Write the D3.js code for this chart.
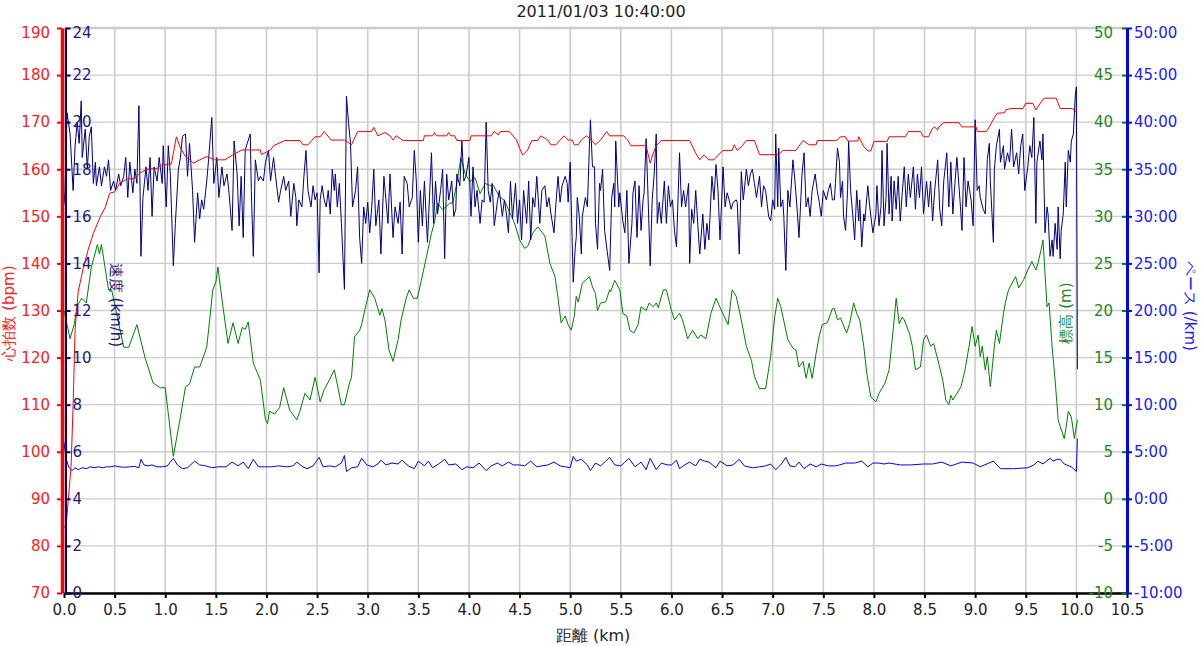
<!DOCTYPE html>
<html><head><meta charset="utf-8">
<script src="https://cdn.jsdelivr.net/npm/d3@7"></script>
<style>
body{margin:0;background:#fff}
text{font-family:"DejaVu Sans",sans-serif}
</style>
</head><body>
<svg width="1201" height="646"></svg>
<script>
const title="2011/01/03 10:40:00"
const distTicks=[0,0.5,1,1.5,2,2.5,3,3.5,4,4.5,5,5.5,6,6.5,7,7.5,8,8.5,9,9.5,10,10.5]
const hrTicks=[70,80,90,100,110,120,130,140,150,160,170,180,190]
const speedTicks=[0,2,4,6,8,10,12,14,16,18,20,22,24]
const eleTicks=[-10,-5,0,5,10,15,20,25,30,35,40,45,50]
const eleLabels=["-10","-5","0","5","10","15","20","25","30","35","40","45","50"]
const paceTicks=[-10,-5,0,5,10,15,20,25,30,35,40,45,50]
const paceLabels=["-10:00","-5:00","0:00","5:00","10:00","15:00","20:00","25:00","30:00","35:00","40:00","45:00","50:00"]

// [km, bpm]
const hrData=[[0.00,84],[0.02,84],[0.07,97],[0.09,110],[0.11,126],[0.14,134],[0.19,139],[0.24,143],[0.29,146.4],[0.36,150],[0.41,152],[0.45,154.9],[0.50,155.2],[0.55,157],[0.62,157.9],[0.70,158.1],[0.75,159.2],[0.82,160],[0.92,160.2],[0.97,161],[1.06,161.1],[1.11,166.9],[1.15,164.5],[1.20,162.7],[1.28,161.3],[1.34,162],[1.41,162.7],[1.49,162],[1.59,162],[1.67,163.1],[1.76,164.1],[1.94,164.1],[1.95,163.1],[2.04,164.1],[2.07,165],[2.18,166.1],[2.33,166.1],[2.36,165.2],[2.41,165.2],[2.48,166.9],[2.53,166.9],[2.57,168],[2.64,166.2],[2.77,166.2],[2.84,165.2],[2.90,168],[3.04,168],[3.06,168.9],[3.10,167.1],[3.17,167.8],[3.22,167.1],[3.25,166.2],[3.28,167.1],[3.35,166.1],[3.55,166.1],[3.56,167.1],[3.64,167.1],[3.66,167.8],[3.68,167.1],[3.78,167.1],[3.80,167.8],[3.82,167.1],[3.86,167.1],[3.88,166.1],[4.01,166.1],[4.02,167.1],[4.22,167.1],[4.25,168],[4.29,167.3],[4.31,168],[4.40,168],[4.47,166.2],[4.50,164.5],[4.53,163.0],[4.58,164.1],[4.62,166.1],[4.68,166.1],[4.71,167.1],[4.78,166.2],[4.81,165.2],[4.86,165.2],[4.90,166.2],[4.94,167.1],[4.98,166.2],[5.02,166.2],[5.04,165.2],[5.08,165.2],[5.11,166.2],[5.16,167.1],[5.21,166.2],[5.25,165.2],[5.30,166.2],[5.36,168],[5.39,167.1],[5.53,167.1],[5.57,166.1],[5.60,165],[5.75,165],[5.79,161.3],[5.82,163.4],[5.85,165],[5.90,166.1],[6.18,166.1],[6.24,163.4],[6.28,162],[6.32,163],[6.37,162],[6.42,162],[6.46,163],[6.51,164],[6.60,164],[6.62,165.2],[6.65,164],[6.70,165],[6.74,166.1],[6.82,166.1],[6.87,163.1],[7.06,163.1],[7.10,164],[7.23,164],[7.30,166.1],[7.36,165.2],[7.43,165.2],[7.44,166.1],[7.61,166.1],[7.64,166.2],[7.67,166.9],[7.72,166.9],[7.74,166.0],[7.84,166.0],[7.85,166.9],[7.90,164.8],[7.94,163.9],[7.97,163.9],[8.00,165.9],[8.13,165.9],[8.15,166.9],[8.31,166.9],[8.34,168],[8.46,168],[8.49,166.9],[8.54,166.9],[8.58,168.7],[8.60,169],[8.63,168.3],[8.64,169],[8.69,169.9],[8.84,169.9],[8.87,169],[9.01,169],[9.02,168],[9.11,168],[9.14,169],[9.19,171],[9.22,171.9],[9.29,172],[9.30,172.6],[9.35,172.9],[9.47,172.9],[9.50,174],[9.57,174],[9.60,172.6],[9.63,173.6],[9.68,175.1],[9.80,175.1],[9.84,172.9],[9.96,172.9],[10.01,172]]

// [km, km/h]
const speedData=[[0.00,16.5],[0.01,17.1],[0.03,20.4],[0.06,19.5],[0.09,17.1],[0.11,19.0],[0.13,20.0],[0.15,19.1],[0.17,20.9],[0.18,18.5],[0.21,19.7],[0.23,18.0],[0.25,19.4],[0.27,19.8],[0.29,17.4],[0.31,18.3],[0.32,17.3],[0.35,18.1],[0.37,17.3],[0.40,18.1],[0.42,17.7],[0.44,18.4],[0.46,17.1],[0.49,17.5],[0.51,17.1],[0.54,17.8],[0.56,17.3],[0.59,17.7],[0.61,18.5],[0.63,16.8],[0.65,18.3],[0.68,17.0],[0.70,18.0],[0.72,17.4],[0.74,20.7],[0.76,14.3],[0.78,16.8],[0.81,18.1],[0.83,17.1],[0.85,18.5],[0.87,16.0],[0.89,18.1],[0.92,17.5],[0.94,18.5],[0.97,17.4],[0.98,19.0],[1.01,16.4],[1.03,19.0],[1.05,17.8],[1.08,13.9],[1.10,15.7],[1.13,18.0],[1.15,18.5],[1.17,19.4],[1.20,19.5],[1.22,17.7],[1.24,19.1],[1.27,17.1],[1.29,14.9],[1.32,17.0],[1.34,15.9],[1.36,16.7],[1.38,16.3],[1.41,17.5],[1.43,18.5],[1.46,20.2],[1.48,17.4],[1.51,18.5],[1.53,16.8],[1.56,18.1],[1.58,17.3],[1.61,17.8],[1.63,17.0],[1.66,15.4],[1.68,19.2],[1.71,17.8],[1.73,15.6],[1.75,17.7],[1.77,15.1],[1.79,18.8],[1.81,19.1],[1.84,19.5],[1.85,17.1],[1.87,14.3],[1.89,18.4],[1.92,17.5],[1.94,17.7],[1.97,17.5],[1.99,18.3],[2.02,18.8],[2.04,17.5],[2.07,18.5],[2.09,17.7],[2.12,16.6],[2.14,17.1],[2.17,17.7],[2.19,17.1],[2.22,17.5],[2.24,16.0],[2.27,17.4],[2.29,16.8],[2.30,15.6],[2.32,16.7],[2.35,16.4],[2.37,17.7],[2.39,18.8],[2.41,17.1],[2.44,16.4],[2.46,17.3],[2.48,16.7],[2.50,17.0],[2.52,13.6],
[2.53,16.7],[2.55,17.3],[2.57,16.7],[2.59,16.4],[2.61,17.1],[2.63,16.1],[2.65,18.0],[2.67,17.1],[2.68,17.8],[2.70,16.4],[2.72,17.4],[2.74,15.7],[2.77,12.9],[2.79,21.1],[2.81,20.0],[2.83,19.1],[2.85,16.4],[2.88,17.1],[2.90,18.1],[2.92,15.1],[2.94,14.0],[2.96,16.4],[2.98,15.7],[3.00,16.6],[3.02,15.3],[3.04,16.4],[3.06,18.0],[3.08,15.6],[3.11,16.7],[3.13,14.4],[3.16,17.7],[3.18,16.7],[3.20,15.7],[3.22,17.8],[3.25,15.1],[3.27,16.4],[3.30,15.7],[3.32,16.6],[3.34,14.4],[3.36,17.7],[3.39,17.4],[3.41,16.4],[3.44,16.8],[3.46,18.8],[3.48,17.5],[3.50,14.9],[3.52,17.1],[3.54,15.6],[3.56,17.5],[3.59,14.9],[3.61,16.8],[3.63,18.7],[3.65,15.7],[3.67,17.5],[3.69,16.1],[3.72,17.1],[3.74,18.0],[3.76,14.2],[3.78,17.8],[3.80,16.7],[3.83,17.5],[3.85,16.0],[3.87,16.3],[3.88,17.8],[3.91,17.3],[3.93,19.2],[3.95,17.5],[3.97,17.7],[4.00,18.5],[4.02,16.0],[4.04,18.1],[4.06,16.4],[4.08,17.1],[4.11,15.7],[4.13,16.7],[4.15,16.6],[4.17,20.0],[4.19,17.1],[4.21,16.6],[4.23,17.4],[4.25,15.6],[4.28,16.6],[4.30,17.1],[4.33,16.0],[4.35,16.7],[4.37,16.1],[4.39,15.3],[4.41,17.5],[4.43,15.9],[4.46,17.4],[4.48,15.7],[4.50,16.7],[4.52,15.0],[4.54,17.1],[4.57,15.7],[4.59,17.5],[4.61,15.0],[4.63,16.8],[4.65,16.4],[4.67,17.7],[4.70,15.7],[4.72,17.1],[4.75,17.3],[4.77,16.4],[4.79,16.8],[4.81,16.1],[4.84,15.3],[4.86,16.6],[4.88,17.7],[4.90,16.6],[4.92,17.3],[4.95,17.7],[4.97,17.4],[4.98,16.6],[5.00,18.3],[5.03,13.2],[5.05,14.7],
[5.06,15.1],[5.07,16.8],[5.09,16.0],[5.11,14.4],[5.12,16.0],[5.15,16.8],[5.17,16.4],[5.19,19.0],[5.20,20.1],[5.22,18.1],[5.24,18.1],[5.25,15.7],[5.27,14.6],[5.29,17.4],[5.30,17.1],[5.32,18.0],[5.34,15.4],[5.36,14.7],[5.39,13.7],[5.41,16.8],[5.43,17.4],[5.44,16.4],[5.45,19.2],[5.48,16.4],[5.49,17.0],[5.52,15.8],[5.54,15.3],[5.56,17.1],[5.58,14.0],[5.61,15.7],[5.62,17.0],[5.64,17.5],[5.66,15.1],[5.68,17.3],[5.70,15.4],[5.72,16.7],[5.73,17.0],[5.75,19.3],[5.77,16.7],[5.79,13.9],[5.81,16.7],[5.83,17.8],[5.85,19.5],[5.86,15.7],[5.88,16.6],[5.90,15.7],[5.93,17.5],[5.95,15.7],[5.97,17.3],[5.99,16.4],[6.01,16.7],[6.03,15.4],[6.05,14.7],[6.08,18.7],[6.10,16.4],[6.12,17.1],[6.14,16.4],[6.17,17.4],[6.18,14.0],[6.20,16.3],[6.22,15.7],[6.24,17.1],[6.27,15.0],[6.28,14.4],[6.31,16.1],[6.33,14.6],[6.35,15.7],[6.37,15.0],[6.40,17.7],[6.42,16.7],[6.44,18.2],[6.46,17.1],[6.48,15.0],[6.51,18.1],[6.53,16.4],[6.55,17.0],[6.57,16.7],[6.59,16.3],[6.61,16.6],[6.64,16.7],[6.65,16.6],[6.67,14.4],[6.69,17.9],[6.71,16.7],[6.74,18.0],[6.76,17.3],[6.78,17.8],[6.80,18.0],[6.82,17.4],[6.84,16.8],[6.87,17.7],[6.89,16.4],[6.91,17.3],[6.93,17.1],[6.96,16.0],[6.98,15.8],[7.00,16.7],[7.02,16.3],[7.03,19.5],[7.05,16.4],[7.06,18.9],[7.08,16.4],[7.10,16.7],[7.11,16.0],[7.13,13.7],[7.15,17.1],[7.17,16.4],[7.20,18.4],[7.22,17.5],[7.24,16.4],[7.26,15.1],[7.29,17.8],[7.31,18.7],[7.33,16.4],[7.35,16.8],[7.37,16.0],[7.39,17.1],[7.42,17.8],[7.44,17.1],[7.46,16.6],[7.48,16.0],[7.50,17.1],[7.53,16.7],[7.55,17.1],[7.57,17.4],[7.59,16.7],
[7.61,16.7],[7.62,17.4],[7.64,18.9],[7.66,18.3],[7.67,16.8],[7.69,17.5],[7.70,16.0],[7.72,15.4],[7.74,17.1],[7.75,19.2],[7.77,17.1],[7.79,16.1],[7.81,15.0],[7.83,17.1],[7.85,15.8],[7.86,16.7],[7.88,14.7],[7.90,16.1],[7.91,15.8],[7.94,17.3],[7.95,16.8],[7.97,16.0],[7.99,15.3],[8.02,16.1],[8.03,17.3],[8.05,15.6],[8.07,16.4],[8.08,18.8],[8.10,15.6],[8.12,16.8],[8.13,19.1],[8.15,16.1],[8.17,17.7],[8.18,15.8],[8.20,17.5],[8.22,16.3],[8.24,17.7],[8.26,15.8],[8.28,17.0],[8.30,18.1],[8.32,16.4],[8.34,17.8],[8.36,16.8],[8.39,18.1],[8.41,16.3],[8.43,17.8],[8.45,16.8],[8.47,18.1],[8.49,16.1],[8.52,17.5],[8.54,16.4],[8.56,17.5],[8.58,15.8],[8.60,17.1],[8.63,18.4],[8.65,16.3],[8.67,15.6],[8.69,17.5],[8.72,18.7],[8.74,16.4],[8.76,18.3],[8.78,16.1],[8.80,17.4],[8.82,18.5],[8.85,16.7],[8.87,15.4],[8.89,18.5],[8.91,16.4],[8.93,17.5],[8.96,16.7],[8.98,15.6],[9.00,20.1],[9.02,17.1],[9.04,17.3],[9.05,16.8],[9.08,16.3],[9.10,16.1],[9.12,18.4],[9.14,19.1],[9.15,17.5],[9.18,14.9],[9.19,18.0],[9.21,19.0],[9.24,19.7],[9.25,18.3],[9.28,19.0],[9.29,18.0],[9.32,18.7],[9.34,18.3],[9.36,19.7],[9.38,18.1],[9.41,18.7],[9.43,17.8],[9.45,19.0],[9.47,19.5],[9.49,17.1],[9.52,18.1],[9.54,19.0],[9.56,18.5],[9.58,20.2],[9.60,15.7],[9.61,18.3],[9.64,19.2],[9.66,18.4],[9.67,19.5],[9.69,15.3],[9.71,16.4],[9.72,16.1],[9.74,14.3],[9.76,15.0],[9.77,14.3],[9.79,15.7],[9.81,14.6],[9.82,16.4],[9.84,14.2],[9.85,15.4],[9.87,16.1],[9.89,18.3],[9.90,16.4],[9.92,18.8],[9.94,18.3],[9.95,19.2],[9.97,19.5],[9.99,21.2],[10.00,21.5],[10.01,9.5]]

// [km, m]
const eleData=[[0.00,20.0],[0.02,19.0],[0.06,17.0],[0.10,18.5],[0.13,20.5],[0.175,21.3],[0.22,20.8],[0.27,24.6],[0.33,27.0],[0.35,26.0],[0.37,27.0],[0.44,22.2],[0.47,22.2],[0.59,16.1],[0.64,16.1],[0.72,18.5],[0.80,15.0],[0.88,12.3],[0.95,11.8],[1.00,11.8],[1.08,4.5],[1.15,8.7],[1.20,11.9],[1.24,12.2],[1.29,14.0],[1.34,14.0],[1.41,16.1],[1.47,22.2],[1.50,23.0],[1.52,24.6],[1.57,20.4],[1.62,16.5],[1.67,18.7],[1.72,16.5],[1.76,18.2],[1.79,18.0],[1.82,18.8],[1.87,14.4],[1.94,12.6],[1.99,8.4],[2.01,8.0],[2.03,9.3],[2.08,9.0],[2.13,9.7],[2.17,11.8],[2.23,9.4],[2.30,8.4],[2.33,9.3],[2.38,11.2],[2.43,10.5],[2.48,12.9],[2.51,11.4],[2.53,10.3],[2.57,11.6],[2.62,12.6],[2.67,13.7],[2.71,11.6],[2.74,10.0],[2.77,10.0],[2.82,12.3],[2.84,12.9],[2.87,17.2],[2.92,17.9],[2.94,18.5],[2.97,20.0],[3.02,22.2],[3.07,21.3],[3.12,19.5],[3.14,20.2],[3.17,19.0],[3.21,15.8],[3.25,14.6],[3.30,16.9],[3.33,19.0],[3.38,21.3],[3.41,22.2],[3.45,21.3],[3.49,21.3],[3.53,23.2],[3.58,25.7],[3.63,28.2],[3.66,29.4],[3.69,31.4],[3.74,30.7],[3.81,31.4],[3.84,31.4],[3.88,33.5],[3.92,36.2],[3.96,34.6],[4.01,33.7],[4.06,34.1],[4.11,32.4],[4.16,33.5],[4.20,33.3],[4.24,33.3],[4.30,32.1],[4.35,31.7],[4.42,30.0],[4.45,29.3],[4.50,27.5],[4.55,26.6],[4.58,26.8],[4.63,28.2],[4.68,28.9],[4.75,27.9],[4.80,25.0],[4.85,23.6],[4.88,21.3],[4.91,18.7],[4.95,19.4],[4.98,18.5],[5.01,17.9],[5.04,19.4],[5.06,21.5],[5.08,20.9],[5.12,22.9],[5.19,23.6],[5.22,22.5],[5.25,21.8],[5.27,20.0],[5.30,20.8],[5.35,20.9],[5.39,22.2],[5.40,22.0],[5.44,23.2],[5.49,22.2],[5.52,19.7],[5.56,19.4],[5.59,17.9],[5.63,17.6],[5.67,18.5],[5.70,20.4],[5.75,20.0],[5.78,20.8],[5.82,20.4],[5.85,20.8],[5.87,20.3],[5.92,22.2],[5.95,22.2],[6.00,20.0],[6.03,19.0],[6.08,19.7],[6.11,19.0],[6.16,17.0],[6.21,17.9],[6.26,17.0],[6.29,17.4],[6.34,17.0],[6.39,19.7],[6.44,21.3],[6.49,20.1],[6.52,19.4],[6.56,18.5],[6.58,20.4],[6.60,22.2],[6.64,21.5],[6.69,19.0],[6.74,16.2],[6.79,14.7],[6.82,13.0],[6.87,11.7],[6.93,11.7],[6.98,15.1],[7.02,19.3],[7.05,21.3],[7.08,20.4],[7.15,16.9],[7.20,16.0],[7.23,15.8],[7.26,14.0],[7.30,14.6],[7.33,12.8],[7.36,14.4],[7.39,12.8],[7.43,15.5],[7.46,17.3],[7.49,18.5],[7.54,18.7],[7.59,20.2],[7.61,20.2],[7.64,19.0],[7.67,19.2],[7.73,17.6],[7.76,18.6],[7.80,20.8],[7.83,19.7],[7.86,19.0],[7.90,16.2],[7.93,13.3],[7.97,10.8],[8.02,10.3],[8.05,11.2],[8.11,12.3],[8.15,13.7],[8.19,17.9],[8.22,21.3],[8.25,18.6],[8.28,19.3],[8.30,19.0],[8.35,17.6],[8.38,16.2],[8.41,13.7],[8.46,14.0],[8.49,16.9],[8.52,17.4],[8.56,16.2],[8.59,16.5],[8.64,14.4],[8.68,12.6],[8.71,10.5],[8.74,10.0],[8.76,11.0],[8.78,10.5],[8.82,11.2],[8.86,11.9],[8.90,13.7],[8.94,16.2],[8.97,18.3],[9.00,16.2],[9.03,17.4],[9.05,15.1],[9.07,16.2],[9.10,13.7],[9.12,15.1],[9.15,11.9],[9.19,16.2],[9.21,17.9],[9.24,16.5],[9.28,19.7],[9.30,20.9],[9.33,22.2],[9.40,23.6],[9.43,22.4],[9.47,23.1],[9.48,23.3],[9.52,24.3],[9.56,25.2],[9.60,24.3],[9.62,25.0],[9.65,26.4],[9.67,27.5],[9.71,20.4],[9.73,20.8],[9.76,16.2],[9.79,12.6],[9.82,8.4],[9.84,7.7],[9.88,6.4],[9.90,7.7],[9.92,9.3],[9.95,8.7],[9.98,6.4],[10.01,8.4]]

// [km, min/km]
const paceData=[[0.00,6.0],[0.02,4.3],[0.05,3.3],[0.08,3.0],[0.11,3.3],[0.14,3.1],[0.18,3.3],[0.22,3.2],[0.26,3.4],[0.30,3.3],[0.34,3.4],[0.38,3.3],[0.42,3.4],[0.46,3.4],[0.50,3.5],[0.55,3.4],[0.60,3.35],[0.65,3.4],[0.70,3.45],[0.74,3.3],[0.76,4.2],[0.79,3.6],[0.83,3.5],[0.87,3.6],[0.92,3.4],[0.97,3.4],[1.02,3.5],[1.08,4.3],[1.12,3.6],[1.17,3.2],[1.22,3.3],[1.29,4.0],[1.34,3.6],[1.40,3.5],[1.46,3.3],[1.52,3.4],[1.60,3.4],[1.66,3.9],[1.72,3.5],[1.77,3.9],[1.82,3.2],[1.87,4.2],[1.92,3.4],[1.98,3.4],[2.05,3.4],[2.12,3.5],[2.20,3.4],[2.26,3.5],[2.30,3.9],[2.36,3.4],[2.40,3.2],[2.46,3.5],[2.52,4.4],[2.56,3.4],[2.62,3.5],[2.68,3.4],[2.74,3.8],[2.77,4.6],[2.79,2.9],[2.84,3.3],[2.90,3.4],[2.94,4.3],[2.99,3.6],[3.05,3.4],[3.10,3.7],[3.13,4.1],[3.18,3.6],[3.24,3.8],[3.30,3.7],[3.34,4.1],[3.40,3.5],[3.46,3.2],[3.50,4.0],[3.56,3.5],[3.60,4.0],[3.64,3.3],[3.70,3.7],[3.76,4.2],[3.80,3.6],[3.87,3.7],[3.93,3.1],[3.98,3.4],[4.04,3.3],[4.10,3.8],[4.17,3.0],[4.22,3.5],[4.28,3.8],[4.33,3.5],[4.39,3.9],[4.44,3.6],[4.50,3.6],[4.55,3.5],[4.61,4.0],[4.67,3.4],[4.72,3.5],[4.78,3.6],[4.84,3.9],[4.90,3.5],[4.95,3.4],[5.00,3.3],[5.03,4.5],[5.06,4.0],[5.11,4.2],[5.17,3.6],[5.20,3.0],[5.25,3.8],[5.30,3.5],[5.35,4.0],[5.39,4.4],[5.44,3.6],[5.50,3.5],[5.54,3.9],[5.58,4.3],[5.64,3.4],[5.70,3.9],[5.75,3.1],[5.79,4.3],[5.85,3.1],[5.90,3.8],[5.96,3.6],[6.00,3.6],[6.05,4.1],[6.08,3.2],[6.13,3.6],[6.18,3.9],[6.24,3.5],[6.28,4.2],[6.33,4.0],[6.37,3.9],[6.44,3.3],[6.48,4.0],[6.55,3.5],[6.61,3.6],[6.67,4.2],[6.72,3.5],[6.80,3.3],[6.87,3.4],[6.93,3.5],[6.98,3.7],[7.03,3.1],[7.08,3.6],[7.13,4.4],[7.17,3.5],[7.22,3.4],[7.26,3.9],[7.31,3.2],[7.37,3.7],[7.43,3.4],[7.48,3.7],[7.55,3.5],[7.62,3.5],[7.66,3.6],[7.72,3.8],[7.81,3.8],[7.88,4.0],[7.94,3.4],[7.99,3.8],[8.05,3.8],[8.10,3.7],[8.15,3.8],[8.26,3.6],[8.36,3.6],[8.49,3.7],[8.58,3.7],[8.67,3.9],[8.76,3.5],[8.87,3.9],[8.98,3.8],[9.05,3.4],[9.18,4.0],[9.25,3.2],[9.38,3.2],[9.52,3.3],[9.58,3.6],[9.62,4.0],[9.67,3.7],[9.74,4.3],[9.77,4.0],[9.81,4.2],[9.84,4.2],[9.88,3.7],[9.95,3.4],[10.00,2.9],[10.01,6.4]]

const svg=d3.select("svg")
const L=64,R=1127,T=28,B=593
const x=d3.scaleLinear().domain([0,10.5]).range([L,R])
const yHr=d3.scaleLinear().domain([70,190]).range([B,T])
const ySpd=d3.scaleLinear().domain([0,24]).range([B,T])
const yEle=d3.scaleLinear().domain([-10,50]).range([B,T])
const yPace=d3.scaleLinear().domain([-10,50]).range([B,T])

// grid
const grid=svg.append("g").attr("stroke","#cccccc")
grid.selectAll(".h").data(hrTicks).join("line")
.attr("x1",L).attr("x2",R).attr("y1",d=>yHr(d)).attr("y2",d=>yHr(d))
.attr("stroke-width",d=>d==190?2.5:1.3)
grid.selectAll(".v").data(distTicks).join("line")
.attr("x1",d=>x(d)).attr("x2",d=>x(d)).attr("y1",T).attr("y2",B)
.attr("stroke-width",1.6)

const lineOf=(ys)=>d3.line().x(d=>x(d[0])).y(d=>ys(d[1]))
const draw=(data,ys,col)=>svg.append("path").datum(data).attr("d",lineOf(ys))
.attr("fill","none").attr("stroke",col).attr("stroke-width",1).attr("stroke-linejoin","round")

draw(eleData,yEle,"#008000")
draw(paceData,yPace,"#0000ff")
draw(speedData,ySpd,"#000080")
draw(hrData,yHr,"#ff0000")

const fontSz="15px"
styleAxis=(g,col,w,showDomain)=>{
g.attr("font-family",null).attr("font-size",null)
g.selectAll("text").attr("fill",col).style("font-size",fontSz).style("font-family","DejaVu Sans")
g.selectAll(".tick line").attr("stroke",col).attr("stroke-width",2)
if(showDomain){g.select(".domain").attr("stroke",col).attr("stroke-width",w)}
else{g.select(".domain").remove()}
}
// top label sits inside the frame, like the original
const nudgeTop=(g,top)=>{g.selectAll(".tick").filter(d=>d==top).select("text").attr("y",5)}

// bottom axis
let gx=svg.append("g").attr("transform",`translate(0,${B})`)
.call(d3.axisBottom(x).tickValues(distTicks).tickFormat(d3.format(".1f")).tickSize(5).tickSizeOuter(0).tickPadding(6))
styleAxis(gx,"#000",2.5,true)
gx.selectAll("text").attr("fill","#222")

// heart rate axis
let gh=svg.append("g").attr("transform",`translate(${L-2},0)`)
.call(d3.axisLeft(yHr).tickValues(hrTicks).tickSize(5).tickSizeOuter(0).tickPadding(7))
styleAxis(gh,"#ff0000",3.5,true)
gh.selectAll("text").attr("fill","#ff2020")
nudgeTop(gh,190)

// speed axis
let gs=svg.append("g").attr("transform",`translate(${L+1.5},0)`)
.call(d3.axisRight(ySpd).tickValues(speedTicks).tickSize(5).tickSizeOuter(0).tickPadding(2))
styleAxis(gs,"#000080",2,true)
gs.selectAll("text").attr("fill","#1a1a80")
nudgeTop(gs,24)

// elevation axis
let ge=svg.append("g").attr("transform",`translate(${R},0)`)
.call(d3.axisLeft(yEle).tickValues(eleTicks).tickFormat((d,i)=>eleLabels[i]).tickSize(5).tickSizeOuter(0).tickPadding(9))
styleAxis(ge,"#008000",1,false)
ge.selectAll("text").attr("fill","#1a8a1a")
nudgeTop(ge,50)

// pace axis
let gp=svg.append("g").attr("transform",`translate(${R},0)`)
.call(d3.axisRight(yPace).tickValues(paceTicks).tickFormat((d,i)=>paceLabels[i]).tickSize(5).tickSizeOuter(0).tickPadding(2))
styleAxis(gp,"#0000ff",3,true)
gp.selectAll("text").attr("fill","#2020ff")
nudgeTop(gp,50)

// titles
const label=(tx,ty,rot,txt,col,sz)=>svg.append("text")
.attr("transform",`translate(${tx},${ty}) rotate(${rot})`)
.attr("text-anchor","middle").attr("dominant-baseline","central")
.attr("fill",col).style("font-size",sz||"15px").text(txt)

label(601,11,0,title,"#222","16px")
label(593,635,0,"距離 (km)","#222","16px")
label(9,313,-90,"心拍数 (bpm)","#ff2020")
label(116,305,90,"速度 (km/h)","#1a1a80")
label(1066,313,-90,"標高 (m)","#1a8a1a")
label(1190,306,90,"ペース (/km)","#2020ff")
</script>
</body></html>
